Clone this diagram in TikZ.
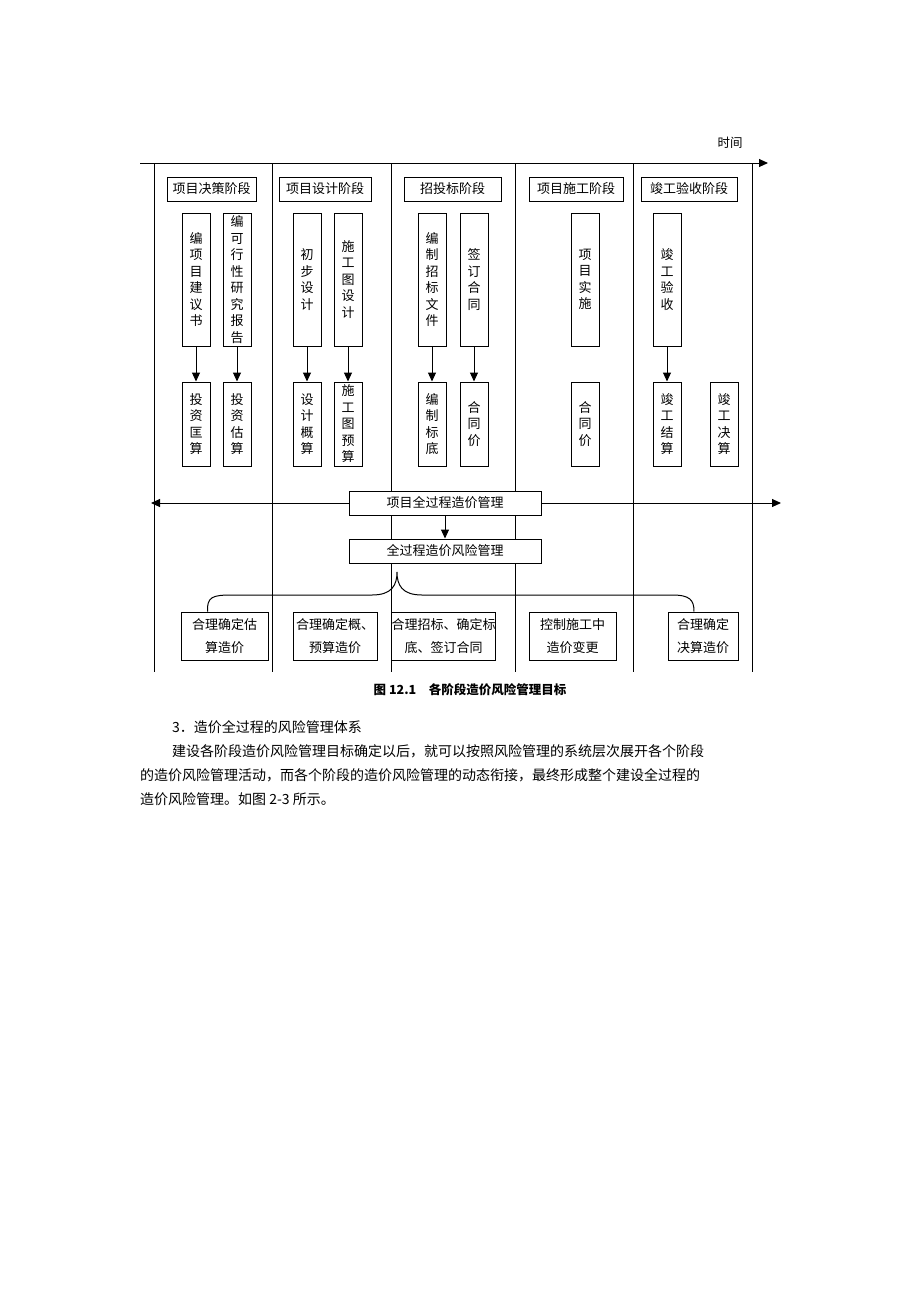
\documentclass[tikz,border=0pt]{standalone}
\usepackage{fontspec}
\setmainfont{Liberation Serif}
\newfontfamily\cjk{Noto Sans CJK SC}
\usetikzlibrary{arrows.meta}
\begin{document}
\begin{tikzpicture}[x=1pt,y=-1pt,
 box/.style={draw,line width=1pt,inner sep=0pt,font=\cjk\fontsize{13}{16.5}\selectfont,align=center},
 vbox/.style={box,minimum width=28pt,minimum height=133pt},
 vsbox/.style={box,minimum width=28pt,minimum height=84pt},
 ln/.style={line width=1pt},
 arr/.style={ln,-{Triangle[length=9pt,width=8pt]}},
 txt/.style={font=\cjk\fontsize{14}{17}\selectfont,anchor=west,inner sep=0pt}]
\useasboundingbox (0,0) rectangle (920,1302);
\node[font=\cjk\fontsize{12.5}{14}\selectfont] (time) at (730,143) {时间};
\coordinate (t0) at (140,163); \coordinate (t1) at (768,163);
\draw[arr] (t0) -- (t1);
\foreach \x in {154,272,391,515,633,752}{\coordinate (a\x) at (\x,163); \coordinate (b\x) at (\x,672); \draw[ln] (a\x) -- (b\x);}
\node[box,minimum width=89pt,minimum height=24pt] (h1) at (211.5,189) {项目决策阶段};
\node[box,minimum width=92pt,minimum height=24pt] (h2) at (325,189) {项目设计阶段};
\node[box,minimum width=97pt,minimum height=24pt] (h3) at (452.5,189) {招投标阶段};
\node[box,minimum width=94pt,minimum height=24pt] (h4) at (576,189) {项目施工阶段};
\node[box,minimum width=96pt,minimum height=24pt] (h5) at (689,189) {竣工验收阶段};
\foreach \n/\x/\t in {u1/196/编\\项\\目\\建\\议\\书, u2/237/编\\可\\行\\性\\研\\究\\报\\告, u3/307/初\\步\\设\\计, u4/348/施\\工\\图\\设\\计, u5/432/编\\制\\招\\标\\文\\件, u6/474/签\\订\\合\\同, u7/585/项\\目\\实\\施, u8/667/竣\\工\\验\\收}
  \node[vbox] (\n) at (\x,279.5) {\t};
\foreach \n/\x/\t in {l1/196/投\\资\\匡\\算, l2/237/投\\资\\估\\算, l3/307/设\\计\\概\\算, l4/348/施\\工\\图\\预\\算, l5/432/编\\制\\标\\底, l6/474/合\\同\\价, l7/585/合\\同\\价, l8/667/竣\\工\\结\\算, l9/724/竣\\工\\决\\算}
  \node[vsbox] (\n) at (\x,424) {\t};
\foreach \i in {1,2,3,4,5,6,8} \draw[arr] (u\i) -- (l\i);
\node[box,minimum width=192pt,minimum height=24pt,fill=white] (m1) at (445,503) {项目全过程造价管理};
\coordinate (le) at (151,503); \coordinate (re) at (781,503);
\draw[arr] (m1.west) -- (le); \draw[arr] (m1.east) -- (re);
\node[box,minimum width=192pt,minimum height=24pt,fill=white] (m2) at (445,551) {全过程造价风险管理};
\draw[arr] (m1) -- (m2);
\foreach \n/\x/\w/\t in {g1/224.5/87/合理确定估\\算造价, g2/335/84/合理确定概、\\预算造价, g3/443.5/95/合理招标、确定标\\底、签订合同, g4/572.5/87/控制施工中\\造价变更, g5/703/70/合理确定\\决算造价}
  \node[box,minimum width=\w pt,minimum height=48pt,fill=white,font=\cjk\fontsize{13}{23}\selectfont] (\n) at (\x,636) {\t};
\coordinate (bt) at (397,572);
\draw[ln] ([xshift=-17pt]g1.north) .. controls (207,597) and (212,595) .. (232,595) -- (372,595) .. controls (392,595) and (397,585) .. (bt)
  .. controls (397,585) and (402,595) .. (422,595) -- (672,595) .. controls (690,595) and (694,600) .. ([xshift=-9pt]g5.north);
\node[font=\bfseries\cjk\fontsize{12.5}{14}\selectfont] (cap) at (470,690) {图 12.1\quad 各阶段造价风险管理目标};
\node[txt] (p0) at (172,727) {3．造价全过程的风险管理体系};
\node[txt] (p1) at (172,751) {建设各阶段造价风险管理目标确定以后，就可以按照风险管理的系统层次展开各个阶段};
\node[txt] (p2) at (140,775) {的造价风险管理活动，而各个阶段的造价风险管理的动态衔接，最终形成整个建设全过程的};
\node[txt] (p3) at (140,799) {造价风险管理。如图 2-3 所示。};
\end{tikzpicture}
\end{document}
